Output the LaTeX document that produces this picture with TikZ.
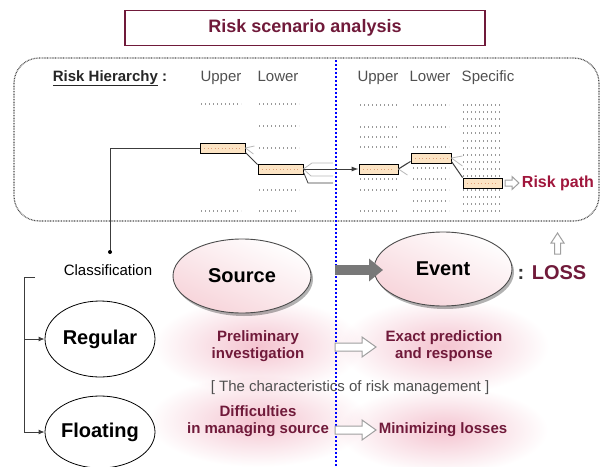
\documentclass[tikz,border=0pt]{standalone}
\usepackage{fontspec}
\setmainfont{Liberation Sans}
\usetikzlibrary{shapes.geometric,shadows,arrows.meta}

\definecolor{maroon}{RGB}{112,26,58}
\definecolor{riskred}{RGB}{160,22,60}
\definecolor{peach}{RGB}{252,228,196}
\definecolor{peachdot}{RGB}{225,160,120}
\definecolor{txtgray}{RGB}{80,80,80}
\definecolor{glowpink}{RGB}{244,196,208}
\definecolor{ellpink}{RGB}{247,212,218}
\definecolor{linkgray}{RGB}{60,60,60}
\definecolor{arrgray}{RGB}{120,120,120}

% hollow block arrow: start, length, shaft half-height, head half-height, head length
\newcommand\harrow[5]{%
  \draw[hollowarr] #1 ++(0,-#3) -- ++({#2-#5},0) -- ++(0,{#3-#4}) -- ++(#5,#4)
    -- ++(-#5,#4) -- ++(0,{#3-#4}) -- ++({-(#2-#5)},0) -- cycle;}

\begin{document}
\begin{tikzpicture}[x=1pt,y=-1pt,
  hdr/.style={font=\fontsize{15}{17}\selectfont, text=txtgray, inner sep=0, anchor=base},
  ph/.style={draw=gray!80, line width=1.2pt, dash pattern=on 1.2pt off 2.8pt},
  boxdots/.style={draw=peachdot, line width=0.9pt, dash pattern=on 0.9pt off 2.6pt},
  pbox/.style={draw=black, line width=0.9pt, fill=peach, minimum width=#1, minimum height=10pt, inner sep=0,
    path picture={\draw[boxdots] ([xshift=4pt]path picture bounding box.west) -- ([xshift=-4pt]path picture bounding box.east);}},
  pbox/.default=45pt,
  fan/.style={draw=gray!55, line width=0.8pt},
  link/.style={draw=linkgray, line width=1pt},
  halo/.style={inner color=glowpink, outer color=white},
  cat/.style={ellipse, draw=black, line width=0.8pt, minimum width=110pt, minimum height=76pt, inner sep=0,
    font=\fontsize{20}{22}\selectfont\bfseries},
  big/.style={ellipse, draw=black!70, line width=0.9pt, top color=white, bottom color=ellpink, shading angle=-25,
    minimum width=138pt, minimum height=74pt, inner sep=0, font=\fontsize{20}{22}\selectfont\bfseries,
    drop shadow={shadow xshift=2pt, shadow yshift=-3pt, opacity=0.3, fill=black}},
  note/.style={text=maroon, font=\fontsize{15}{17}\selectfont\bfseries, align=center, inner sep=0},
  hollowarr/.style={draw=gray!75, fill=white, line width=1pt, line join=miter}
]
\useasboundingbox (0,0) rectangle (602,466);

% halos, multiplied so their white rims do not hide one another
\begin{scope}[blend mode=multiply]
\shade[halo] (258,346) ellipse (105 and 48);
\shade[halo] (258,421) ellipse (110 and 46);
\shade[halo] (444,346) ellipse (105 and 48);
\shade[halo] (443,430) ellipse (105 and 44);
\end{scope}

% title
\node[draw=maroon, line width=1.3pt, fill=white, minimum width=360pt, minimum height=35pt,
      font=\fontsize{18}{20}\selectfont\bfseries, text=maroon] (title) at (305,28) {Risk scenario analysis};

% hierarchy frame
\draw[black!70, line width=1.2pt, dash pattern=on 0.8pt off 0.8pt, rounded corners=25pt] (14,58) rectangle (599,221);

\node[font=\fontsize{15}{17}\selectfont\bfseries, text=black!85, inner sep=0, anchor=base] (rh) at (110,81) {\underline{Risk Hierarchy}~:};
\node[hdr] (h1) at (221,81) {Upper};
\node[hdr] (h2) at (278,81) {Lower};
\node[hdr] (h3) at (378,81) {Upper};
\node[hdr] (h4) at (430,81) {Lower};
\node[hdr] (h5) at (488,81) {Specific};

% placeholder entries
\foreach \y in {104,211} \draw[ph] (201,\y) -- ++(40,0);
\foreach \y in {104,126,148,190,211} \draw[ph] (259,\y) -- ++(40,0);
\foreach \y in {105,127,137,147,179,190,211} \draw[ph] (360,\y) -- ++(38,0);
\foreach \y in {105,127,147,168,179,190,201,211} \draw[ph] (413,\y) -- ++(36,0);
\foreach \y in {105,112,119,126,133,141,148,155,162,169,176,190,197,204,211} \draw[ph] (463,\y) -- ++(39,0);

% chosen path boxes
\node[pbox=45pt] (ua) at (222.5,148) {};
\node[pbox=45pt] (la) at (280.5,169) {};
\node[pbox=39pt] (ub) at (378.5,169) {};
\node[pbox=40pt] (lb) at (431,158) {};
\node[pbox=39pt] (sb) at (482.5,183) {};

% source / event divider
\draw[blue, line width=2pt, dash pattern=on 2pt off 2pt] (336,60) -- (336,466);

% links along the path
\coordinate (cdot) at (110,252);
\draw[link] (cdot) |- (ua.west);
\fill[black] (cdot) circle (2);
\draw[fan] (ua.east) -- ++(9,-2);
\draw[fan] (ua.east) -- ++(8,6);
\draw[link] ([yshift=1pt]ua.south east) -- ([yshift=-1pt]la.north west);

\coordinate (f1) at (333,163);
\coordinate (f2) at (333,176);
\coordinate (f3) at (333,183);
\draw[fan] (la.east) -- (312,163) -- (f1);
\draw[fan] (la.east) -- (311,176) -- (f2);
\draw[link, line width=0.8pt] ([yshift=-3pt]la.east) -- (308,183) -- (f3);
\draw[link, -{Latex[length=7pt,width=5pt]}] (la.east) -- (ub.west);

\draw[fan] (ub.east) -- ++(9,-6);
\draw[fan] (ub.east) -- ++(9,6);
\draw[link] (ub.east) -- ([yshift=2pt]lb.south west);

\draw[fan] (lb.east) -- ++(11,-2);
\draw[fan] (lb.east) -- ++(11,8);
\draw[link] ([yshift=2pt]lb.south east) -- (sb.north west);

\harrow{(505,183)}{14}{3}{6.5}{7}
\node[text=riskred, font=\fontsize{16}{18}\selectfont\bfseries, inner sep=0] (rp) at (558,183) {Risk path};

% classification
\node[font=\fontsize{15}{17}\selectfont, inner sep=0] (cls) at (108,270) {Classification};
\node[cat] (reg) at (100,339) {Regular};
\node[cat, minimum height=72pt] (flo) at (100,432) {Floating};
\coordinate (bk) at (35,277);
\coordinate (bj) at (24,339);
\draw[link, -{Latex[length=6pt,width=5pt]}] (bk) -- (24,277) |- (flo.west);
\draw[link, -{Latex[length=6pt,width=5pt]}] (bj) -- (reg.west);

% source and event
\node[big] (src) at (242,276) {Source};
\node[big] (evt) at (443,269) {Event};
\coordinate (ga) at (335,270);
\coordinate (gb) at (383,270);
\draw[arrgray, line width=10pt, -{Triangle[length=14pt,width=22pt]}] (ga) -- (gb);

\node[font=\fontsize{20}{22}\selectfont\bfseries, text=maroon, inner sep=0] (loss) at (552,273) {\textcolor{black!80}{:} LOSS};
\draw[hollowarr] (554.5,254) -- (554.5,243) -- (551,243) -- (557.5,233) -- (564,243) -- (560.5,243) -- (560.5,254) -- cycle;

% characteristics
\node[note] (pre) at (258,346) {Preliminary\\investigation};
\node[note] (dif) at (258,421) {Difficulties\\in managing source};
\node[note] (exa) at (444,346) {Exact prediction\\and response};
\node[note] (mnl) at (443,430) {Minimizing losses};
\harrow{(335,347)}{41}{4}{10}{14}
\harrow{(335,430)}{41}{4}{10}{14}

\node[font=\fontsize{15}{17}\selectfont, text=txtgray, inner sep=0] (chr) at (350,388) {[ The characteristics of risk management ]};
\end{tikzpicture}
\end{document}
